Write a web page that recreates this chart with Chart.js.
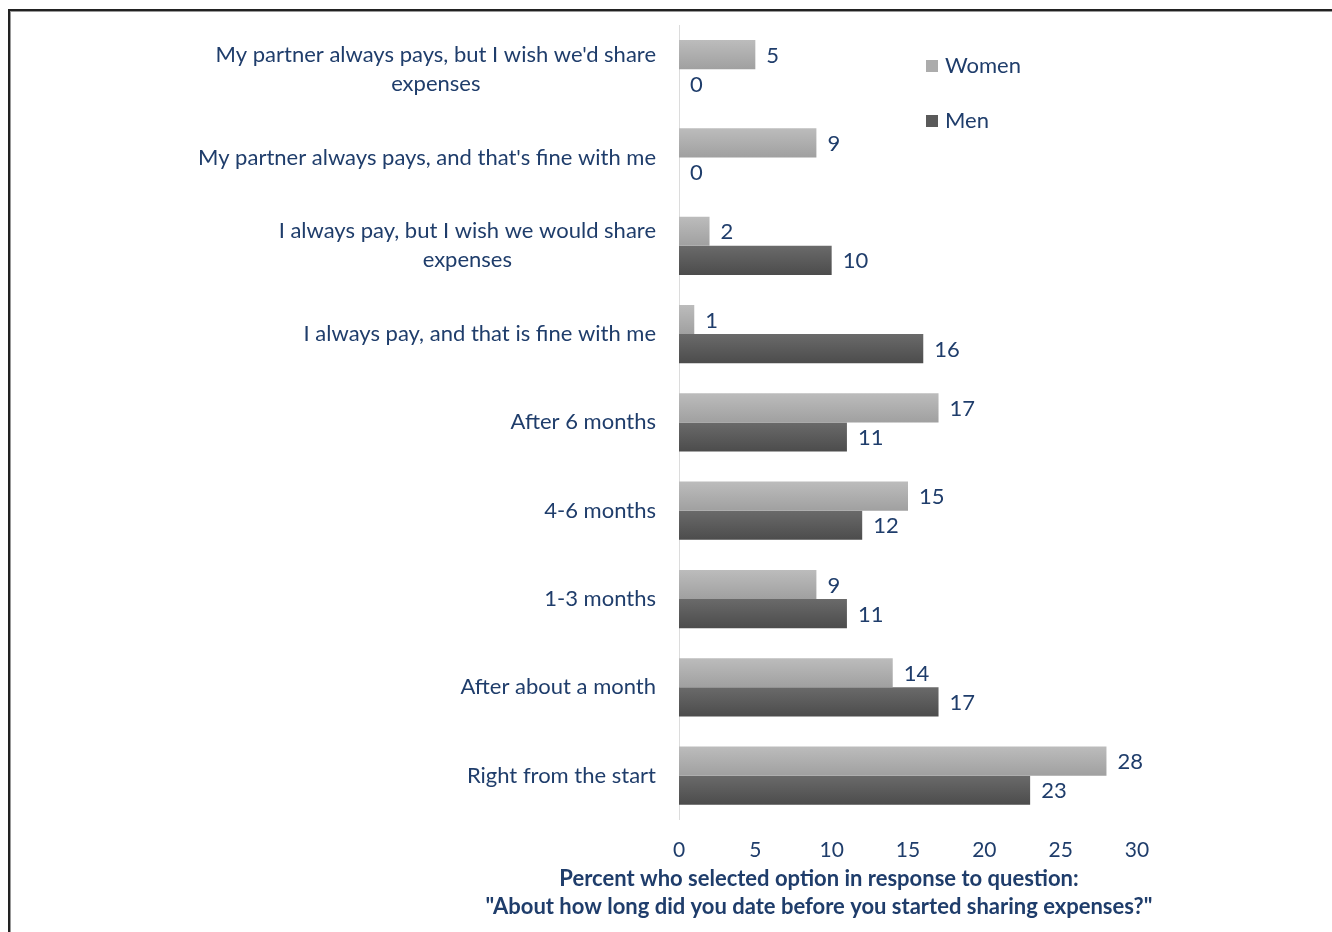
<!DOCTYPE html>
<html>
<head>
<meta charset="utf-8">
<script src="https://cdn.jsdelivr.net/npm/chart.js@4/dist/chart.umd.min.js"></script>
<style>
  html, body { margin: 0; padding: 0; background: #fff; overflow: hidden; }
  #wrap { position: relative; width: 1332px; height: 932px; }
  #frame { position: absolute; left: 8px; top: 9px; width: 2000px; height: 2000px;
           border-top: 2px solid #222; border-left: 2px solid #222; box-shadow: inset 1px 1px 0 #999; }
  canvas { position: absolute; left: 0; top: 0; }
</style>
</head>
<body>
<div id="wrap">
  <div id="frame"></div>
  <canvas id="chart" width="1332" height="932"></canvas>
</div>
<script>
(function () {
    'use strict';

    // categories, top to bottom (arrays = wrapped lines)
    const categories = [
        ["My partner always pays, but I wish we'd share", 'expenses'],
        ["My partner always pays, and that's fine with me"],
        ['I always pay, but I wish we would share', 'expenses'],
        ['I always pay, and that is fine with me'],
        ['After 6 months'],
        ['4-6 months'],
        ['1-3 months'],
        ['After about a month'],
        ['Right from the start']
    ];
    const women = [5, 9, 2, 1, 17, 15, 9, 14, 28];
    const men = [0, 0, 10, 16, 11, 12, 11, 17, 23];
    const xTicks = [0, 5, 10, 15, 20, 25, 30];
    const axisTitle = ['Percent who selected option in response to question:',
                       '"About how long did you date before you started sharing expenses?"'];

    const navy = '#1f3d6b';
    const fontFamily = 'Lato, "Open Sans", sans-serif';
    const catPct = 0.66;

    // vertical gradient for each bar, worked out from the category scale
    function barFill(top, bottom, solid) {
        return function (context) {
            const chart = context.chart;
            const y = chart.scales && chart.scales.y;
            if (!y || context.dataIndex === undefined || !chart.chartArea) return solid;
            const cy = y.getPixelForValue(context.dataIndex);
            const pitch = (y.bottom - y.top) / categories.length;
            const h = pitch * catPct / 2;
            const y0 = context.datasetIndex === 0 ? cy - h : cy;
            const g = chart.ctx.createLinearGradient(0, y0, 0, y0 + h);
            g.addColorStop(0, top);
            g.addColorStop(1, bottom);
            return g;
        };
    }

    // category labels, right aligned block, lines centred within block
    const categoryLabels = {
        id: 'categoryLabels',
        afterDraw: function (chart) {
            const c = chart.ctx;
            const y = chart.scales.y;
            const right = chart.chartArea.left - 23;
            c.save();
            c.font = '22px ' + fontFamily;
            c.fillStyle = navy;
            c.textBaseline = 'middle';
            c.textAlign = 'center';
            categories.forEach(function (lines, i) {
                const cy = y.getPixelForTick(i);
                const w = Math.max.apply(null, lines.map(function (l) { return c.measureText(l).width; }));
                const cx = right - w / 2;
                const lh = 29;
                const top = cy - (lines.length - 1) * lh / 2;
                lines.forEach(function (l, j) {
                    c.fillText(l, cx, top + j * lh);
                });
            });

            // x axis title, two centred bold lines under the tick labels
            c.font = 'bold 22px ' + fontFamily;
            axisTitle.forEach(function (l, j) {
                c.fillText(l, 819, 879 + j * 28);
            });
            c.restore();
        }
    };

    // value labels beside each bar
    const valueLabels = {
        id: 'valueLabels',
        afterDatasetsDraw: function (chart) {
            const c = chart.ctx;
            c.save();
            c.font = '22px ' + fontFamily;
            c.fillStyle = navy;
            c.textBaseline = 'middle';
            c.textAlign = 'left';
            chart.data.datasets.forEach(function (ds, di) {
                chart.getDatasetMeta(di).data.forEach(function (bar, i) {
                    c.fillText(String(ds.data[i]), bar.x + 11, bar.y + 1);
                });
            });
            c.restore();
        }
    };

    // legend inside the plot, stacked vertically
    const legendColors = ['#acacac', '#5a5a5a'];
    const sideLegend = {
        id: 'sideLegend',
        afterDraw: function (chart) {
            const c = chart.ctx;
            const x0 = chart.chartArea.left + 247;
            const ys = [66, 121];
            c.save();
            c.font = '22px ' + fontFamily;
            c.textBaseline = 'middle';
            chart.data.datasets.forEach(function (ds, i) {
                c.fillStyle = legendColors[i];
                c.fillRect(x0, ys[i] - 6, 12, 12);
                c.fillStyle = navy;
                c.fillText(ds.label, x0 + 19, ys[i]);
            });
            c.restore();
        }
    };

    const ctx = document.getElementById('chart').getContext('2d');

    new Chart(ctx, {
        type: 'bar',
        data: {
            labels: categories.map(function (l) { return l.join(' '); }),
            datasets: [
                { label: 'Women', data: women, backgroundColor: barFill('#bcbcbc', '#a0a0a0', '#acacac'), borderWidth: 0 },
                { label: 'Men', data: men, backgroundColor: barFill('#6a6a6a', '#4c4c4c', '#5a5a5a'), borderWidth: 0 }
            ]
        },
        options: {
            indexAxis: 'y',
            responsive: false,
            animation: false,
            events: [],
            categoryPercentage: catPct,
            barPercentage: 1.0,
            layout: { padding: { left: 679, right: 195, top: 25, bottom: 51 } },
            plugins: {
                legend: { display: false },
                tooltip: { enabled: false }
            },
            scales: {
                x: {
                    min: 0,
                    max: 30,
                    afterBuildTicks: function (axis) {
                        axis.ticks = xTicks.map(function (v) { return { value: v }; });
                    },
                    grid: { display: false, drawTicks: false },
                    border: { display: false },
                    ticks: {
                        color: navy,
                        padding: 18,
                        font: { family: fontFamily, size: 21 }
                    }
                },
                y: {
                    grid: { display: false, drawTicks: false },
                    border: { display: true, color: '#dcdcdc', width: 1 },
                    ticks: { display: false }
                }
            }
        },
        plugins: [categoryLabels, valueLabels, sideLegend]
    });
})();
</script>
</body>
</html>
